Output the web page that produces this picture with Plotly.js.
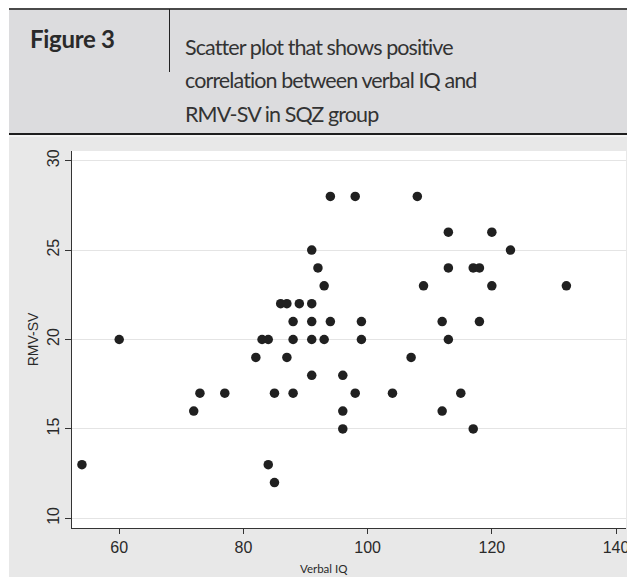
<!DOCTYPE html>
<html>
<head>
<meta charset="utf-8">
<script src="https://cdn.plot.ly/plotly-3.0.1.min.js"></script>
<style>
  html, body { margin: 0; padding: 0; background: #ffffff; width: 627px; height: 577px; overflow: hidden; }
  #header { position: absolute; left: 9px; top: 8px; width: 618px; height: 126px; background: #dcdcde; border-top: 2px solid #4a4a4a; box-sizing: border-box; }
  #rule { position: absolute; left: 9px; top: 133px; width: 618px; height: 2px; background: #1e1e1e; }
  #rule2 { position: absolute; left: 9px; top: 135px; width: 618px; height: 2px; background: #f4f4f4; }
  #vsep { position: absolute; left: 169px; top: 9px; width: 1px; height: 63px; background: #222; }
  #figlabel { position: absolute; left: 30px; top: 24px; font-family: Lato, "Open Sans", sans-serif; font-weight: bold; font-size: 24px; color: #2a2a2a; letter-spacing: -0.3px; }
  #figtitle { position: absolute; left: 185px; top: 31px; font-family: Lato, "Open Sans", sans-serif; font-size: 21.5px; line-height: 33.3px; letter-spacing: -0.9px; color: #333333; }
  #chart { position: absolute; left: 9px; top: 137px; width: 618px; height: 440px; }
</style>
</head>
<body>
<div id="header"></div>
<div id="rule"></div>
<div id="rule2"></div>
<div id="vsep"></div>
<div id="figlabel">Figure 3</div>
<div id="figtitle">Scatter plot that shows positive<br>correlation between verbal IQ and<br>RMV-SV in SQZ group</div>
<div id="chart"></div>
<script>
// Verbal IQ (x) and RMV-SV (y)
const verbalIQ = [54, 60, 72, 73, 77, 82, 83, 84, 84, 85, 85, 86, 87, 87, 88, 88, 88, 89,
                  91, 91, 91, 91, 91, 92, 93, 93, 94, 94, 96, 96, 96, 98, 98, 99, 99,
                  104, 107, 108, 109, 112, 112, 113, 113, 113, 115, 117, 118, 117, 118,
                  120, 120, 123, 132];
const rmvSV    = [13, 20, 16, 17, 17, 19, 20, 20, 13, 12, 17, 22, 22, 19, 21, 20, 17, 22,
                  25, 22, 21, 20, 18, 24, 23, 20, 28, 21, 18, 16, 15, 28, 17, 21, 20,
                  17, 19, 28, 23, 21, 16, 26, 24, 20, 17, 24, 24, 15, 21,
                  26, 23, 25, 23];
const xTicks = [60, 80, 100, 120, 140];
const yTicks = [10, 15, 20, 25, 30];

const trace = {
  x: verbalIQ,
  y: rmvSV,
  type: 'scatter',
  mode: 'markers',
  marker: { color: '#202020', size: 9.5 },
  hoverinfo: 'x+y'
};

const layout = {
  width: 618,
  height: 440,
  margin: { l: 63, r: 1, t: 14, b: 49 },
  paper_bgcolor: '#e8e8e8',
  plot_bgcolor: '#ffffff',
  showlegend: false,
  xaxis: {
    range: [52.4, 141.6],
    tickvals: xTicks,
    ticktext: xTicks.map(String),
    ticklabeloverflow: 'allow',
    ticks: 'outside', ticklen: 5, tickcolor: '#333', tickwidth: 1,
    showline: true, linecolor: '#333', linewidth: 1,
    showgrid: false, zeroline: false,
    tickfont: { family: 'Liberation Sans, Arial, sans-serif', size: 16, color: '#2a2a2a' },
    fixedrange: true
  },
  yaxis: {
    range: [9.46, 30.54],
    tickvals: yTicks,
    ticktext: yTicks.map(String),
    tickangle: -90,
    ticks: 'outside', ticklen: 6, tickcolor: '#333', tickwidth: 1,
    showline: true, linecolor: '#333', linewidth: 1,
    showgrid: true, gridcolor: '#e4e4e4', gridwidth: 1,
    zeroline: false,
    tickfont: { family: 'Liberation Sans, Arial, sans-serif', size: 16, color: '#2a2a2a' },
    title: { text: 'RMV-SV', standoff: 2, font: { family: 'Liberation Sans, Arial, sans-serif', size: 14, color: '#2a2a2a' } },
    fixedrange: true
  },
  annotations: [{
    text: 'Verbal IQ',
    xref: 'paper', yref: 'paper',
    x: 0.455, y: -0.108,
    xanchor: 'center', yanchor: 'middle',
    showarrow: false,
    font: { family: 'Lato, Open Sans, sans-serif', size: 11.5, color: '#2a2a2a' }
  }]
};

Plotly.newPlot('chart', [trace], layout, { displayModeBar: false, staticPlot: true });
</script>
</body>
</html>
